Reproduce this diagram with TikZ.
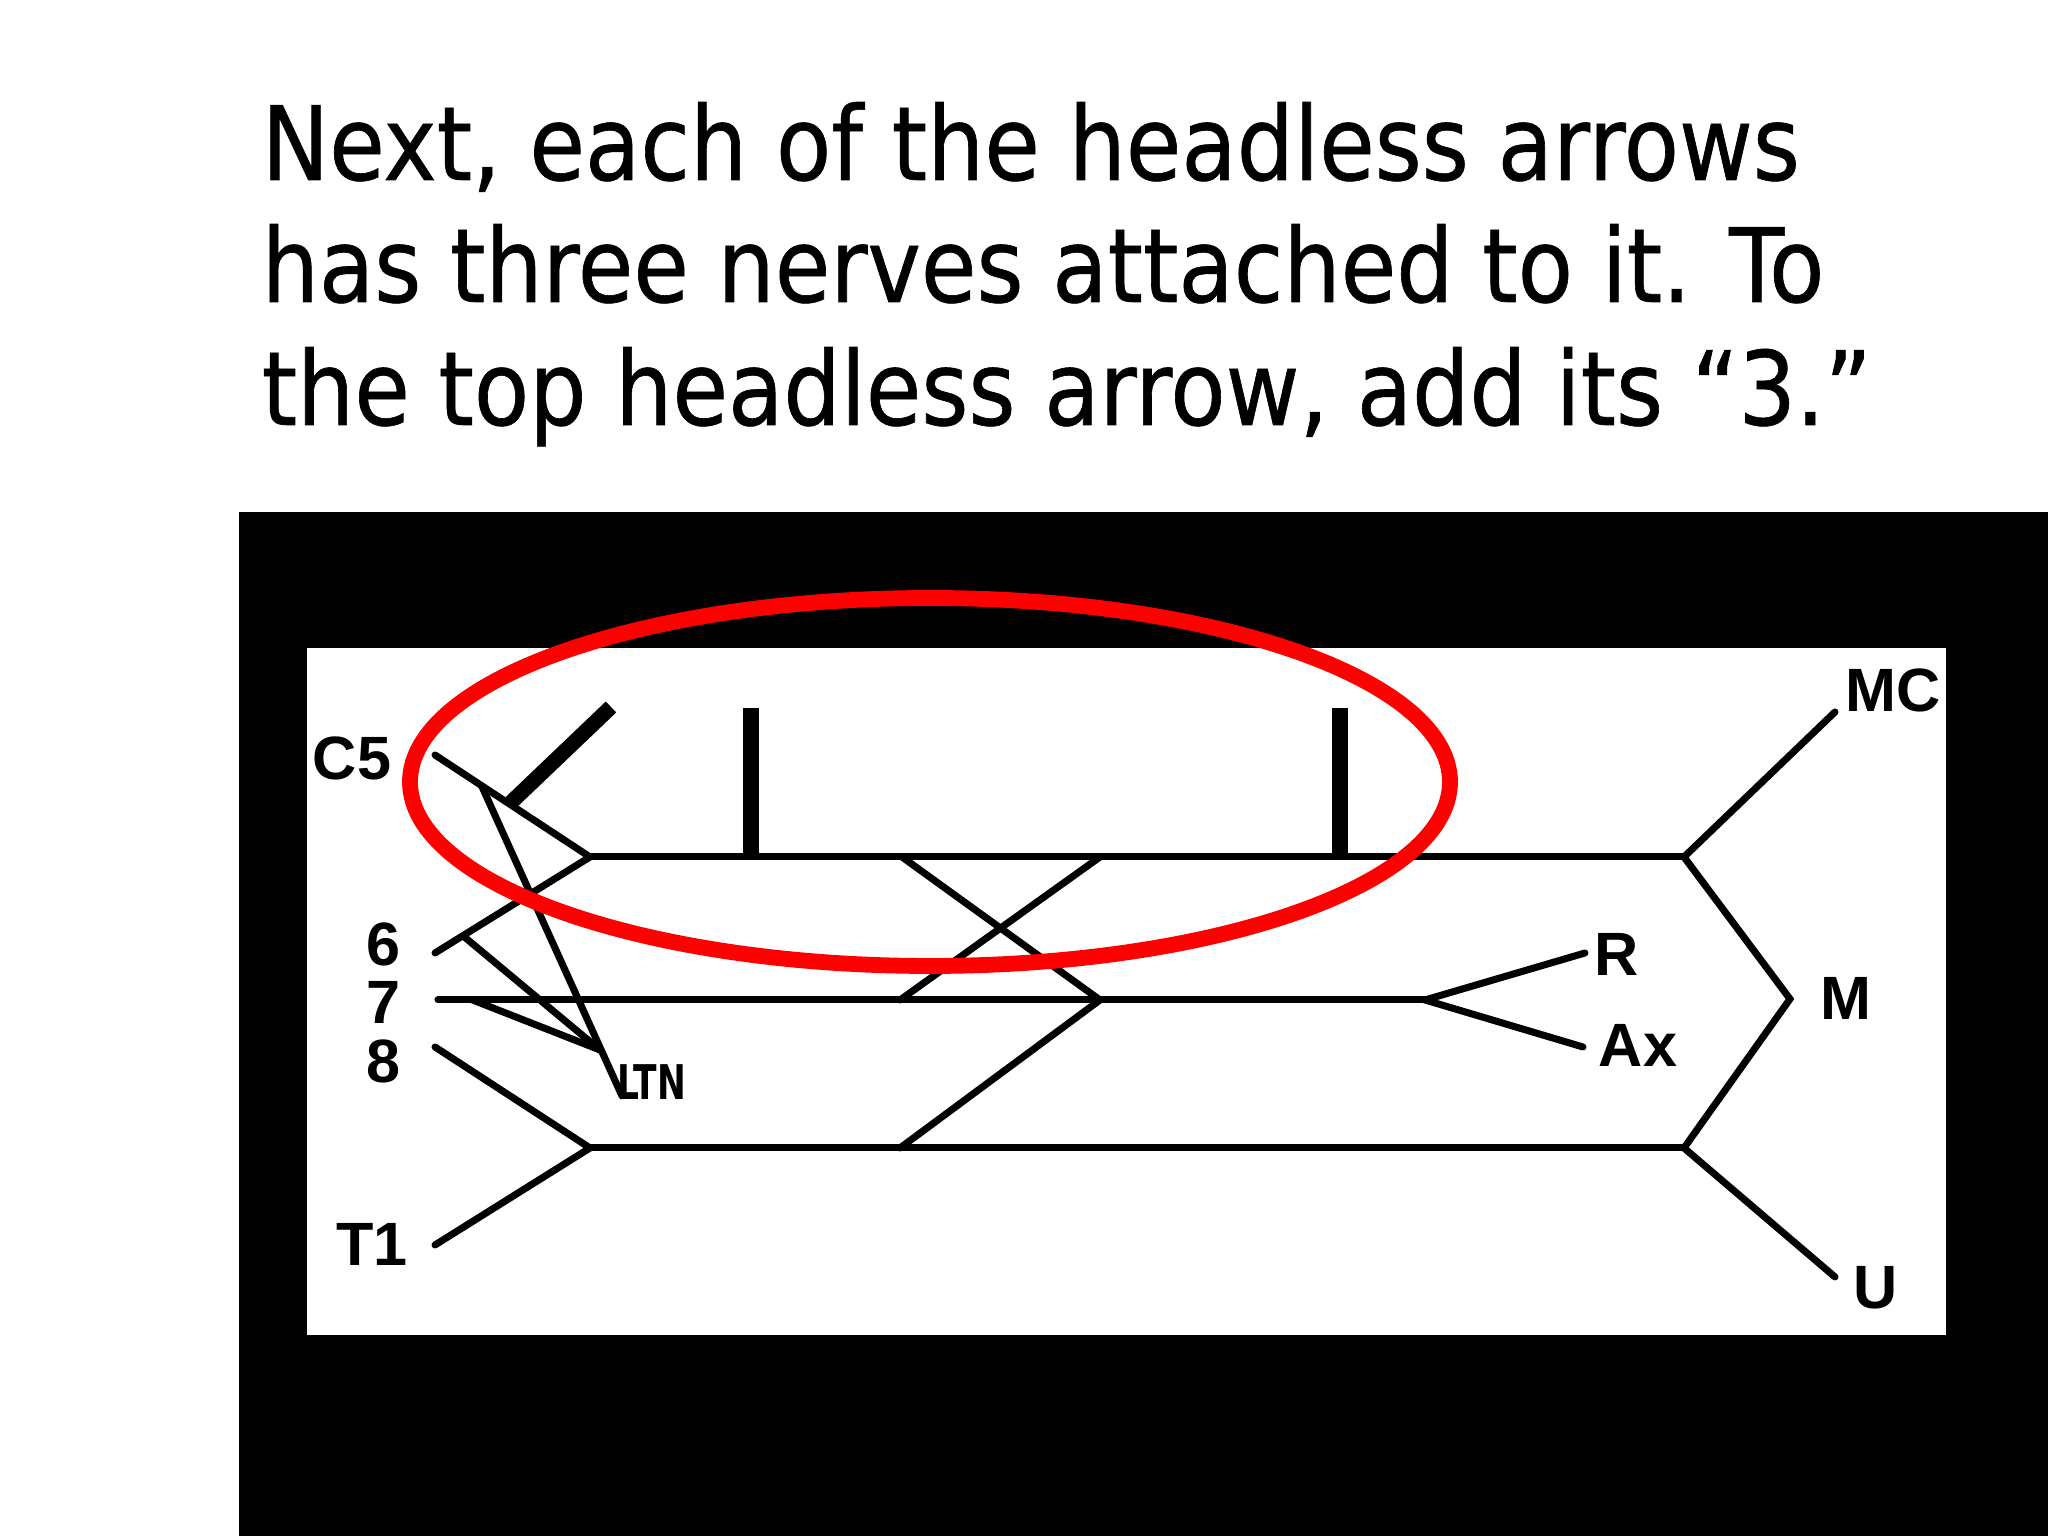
\documentclass[tikz,border=0pt]{standalone}
\usepackage{fontspec}
\usetikzlibrary{calc}
\setmainfont{DejaVu Sans}
\newfontfamily\titlefont[FakeStretch=0.88, FakeBold=0.6]{DejaVu Sans}
\newfontfamily\labelfont{Liberation Sans}
\newfontfamily\ltnfont[FakeStretch=0.72]{DejaVu Sans}

\begin{document}
\begin{tikzpicture}[
	nerve/.style={line width=2pt, line cap=round},
	thicknerve/.style={line width=4.3pt},
	lbl/.style={inner sep=0pt, font=\labelfont\bfseries\fontsize{17.4}{17.4}\selectfont},
	headline/.style={anchor=base west, inner sep=0pt, font=\titlefont\fontsize{29.2}{34.7}\selectfont}]
			%%%%% START %%%%%
			
			\useasboundingbox[fill=white] (0, 0) rectangle (20.48, 15.36);
			
			\node[headline] (title1) at (2.61, 13.56) {Next, each of the headless arrows};
			\node[headline] (title2) at (2.61, 12.34) {has three nerves attached to it. To};
			\node[headline] (title3) at (2.61, 11.11) {the top headless arrow, add its “3.”};
			
			\fill[black] (2.39, 0) rectangle (20.48, 10.24);
			\fill[white] (3.07, 2.01) rectangle (19.46, 8.88);
			
			% roots and trunks
			\coordinate (c5) at (4.35, 7.81);
			\coordinate (six) at (4.35, 5.83);
			\coordinate (seven) at (4.38, 5.36);
			\coordinate (eight) at (4.35, 4.89);
			\coordinate (tone) at (4.35, 2.91);
			\coordinate (upperL) at (5.90, 6.79);
			\coordinate (upperR) at (16.84, 6.79);
			\coordinate (middleR) at (14.25, 5.36);
			\coordinate (lowerL) at (5.90, 3.88);
			\coordinate (lowerR) at (16.84, 3.88);
			
			\draw[nerve] (c5) -- (upperL) -- (six);
			\draw[nerve] (eight) -- (lowerL) -- (tone);
			\draw[nerve] (upperL) -- (upperR);
			\draw[nerve] (seven) -- (middleR);
			\draw[nerve] (lowerL) -- (lowerR);
			
			% long thoracic
			\coordinate (ltnJoin) at (6.00, 4.86);
			\coordinate (ltnEnd) at (6.22, 4.40);
			\draw[nerve] ($(c5)!0.3!(upperL)$) -- (ltnEnd);
			\draw[nerve] ($(six)!0.18!(upperL)$) -- (ltnJoin);
			\draw[nerve] ($(seven)!0.035!(middleR)$) -- (ltnJoin);
			
			% nerves off the top trunk
			\coordinate (dsTip) at (6.11, 8.29);
			\coordinate (nerveA) at (7.51, 8.28);
			\coordinate (nerveB) at (13.40, 8.28);
			\draw[thicknerve] ($(c5)!0.48!(upperL)$) -- (dsTip);
			\draw[thicknerve] (nerveA) -- (nerveA |- upperL);
			\draw[thicknerve] (nerveB) -- (nerveB |- upperL);
			
			% divisions
			\coordinate (xUpA) at (9.02, 6.79);
			\coordinate (xUpB) at (11.00, 6.79);
			\coordinate (xMidA) at (9.00, 5.36);
			\coordinate (xMidB) at (11.00, 5.36);
			\coordinate (xLowA) at (9.00, 3.88);
			\draw[nerve] (xUpA) -- (xMidB) -- (xLowA);
			\draw[nerve] (xUpB) -- (xMidA);
			
			% terminal branches
			\coordinate (mc) at (18.35, 8.24);
			\coordinate (mJoin) at (17.90, 5.37);
			\coordinate (u) at (18.35, 2.59);
			\coordinate (r) at (15.85, 5.83);
			\coordinate (ax) at (15.83, 4.89);
			\draw[nerve] (mc) -- (upperR) -- (mJoin) -- (lowerR) -- (u);
			\draw[nerve] (r) -- (middleR) -- (ax);
			
			\node[lbl] (lblC5) at (3.52, 7.78) {C5};
			\node[lbl] (lbl6) at (3.84, 5.92) {6};
			\node[lbl] (lbl7) at (3.84, 5.34) {7};
			\node[lbl] (lbl8) at (3.84, 4.75) {8};
			\node[lbl] (lblT1) at (3.72, 2.92) {T1};
			\node[lbl] (lblMC) at (18.93, 8.46) {MC};
			\node[lbl] (lblM) at (18.46, 5.38) {M};
			\node[lbl] (lblR) at (16.17, 5.82) {R};
			\node[lbl] (lblAx) at (16.38, 4.91) {Ax};
			\node[lbl] (lblU) at (18.76, 2.48) {U};
			\node[anchor=west, inner sep=0pt, font=\ltnfont\bfseries\fontsize{13.6}{13.6}\selectfont] (lblLTN) at (6.17, 4.54) {LTN};
			
			\draw[red, line width=4.5pt] (9.30, 7.54) ellipse (5.20 and 1.84);
			
			%%%%% END %%%%%
		\end{tikzpicture}
\end{document}
